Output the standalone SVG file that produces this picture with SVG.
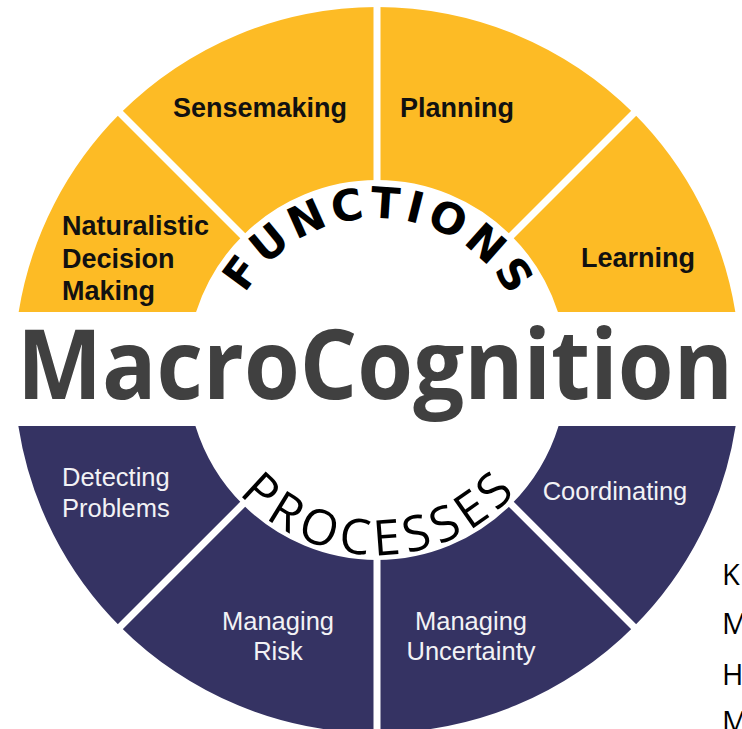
<svg xmlns="http://www.w3.org/2000/svg" width="742" height="729" viewBox="0 0 742 729">
  <style>
    .yel { fill: #FDBB25; }
    .pur { fill: #353363; }
    .ylab { font-family: "Liberation Sans", Arial, sans-serif; font-weight: bold; font-size: 27px; fill: #111111; }
    .plab { font-family: "Liberation Sans", Arial, sans-serif; font-size: 25.5px; fill: #F2F2F5; }
    .div { stroke: #FFFFFF; stroke-width: 7; fill: none; }
    .side { font-family: "Open Sans", "Liberation Sans", sans-serif; font-size: 29px; fill: #000000; }
  </style>
  <defs>
    <path id="arcTop" d="M 225 370 A 152 152 0 0 1 529 370"/>
    <path id="arcBot" d="M 192 370 A 185 185 0 0 0 562 370"/>
  </defs>
  <rect x="0" y="0" width="742" height="729" fill="#FFFFFF"/>

  <g id="ndm">
    <path class="yel" d="M 18.66 312 A 363 363 0 0 1 120.32 113.32 L 242.65 235.65 A 190 190 0 0 0 196.07 312 Z"/>
    <text class="ylab" x="62" y="235">Naturalistic</text>
    <text class="ylab" x="62" y="268">Decision</text>
    <text class="ylab" x="62" y="300">Making</text>
  </g>
  <g id="sensemaking">
    <path class="yel" d="M 120.32 113.32 A 363 363 0 0 1 377 7 L 377 180 A 190 190 0 0 0 242.65 235.65 Z"/>
    <text class="ylab" x="173" y="117">Sensemaking</text>
  </g>
  <g id="planning">
    <path class="yel" d="M 377 7 A 363 363 0 0 1 633.68 113.32 L 511.35 235.65 A 190 190 0 0 0 377 180 Z"/>
    <text class="ylab" x="400" y="117">Planning</text>
  </g>
  <g id="learning">
    <path class="yel" d="M 633.68 113.32 A 363 363 0 0 1 735.34 312 L 557.93 312 A 190 190 0 0 0 511.35 235.65 Z"/>
    <text class="ylab" x="581" y="267">Learning</text>
  </g>

  <g id="detecting">
    <path class="pur" d="M 18.35 426 L 195.44 426 A 190 190 0 0 0 242.65 504.35 L 120.32 626.68 A 363 363 0 0 1 18.35 426 Z"/>
    <text class="plab" x="62" y="486">Detecting</text>
    <text class="plab" x="62" y="517">Problems</text>
  </g>
  <g id="risk">
    <path class="pur" d="M 242.65 504.35 A 190 190 0 0 0 377 560 L 377 733 A 363 363 0 0 1 120.32 626.68 Z"/>
    <text class="plab" x="278" y="630" text-anchor="middle">Managing</text>
    <text class="plab" x="278" y="660" text-anchor="middle">Risk</text>
  </g>
  <g id="uncertainty">
    <path class="pur" d="M 377 560 A 190 190 0 0 0 511.35 504.35 L 633.68 626.68 A 363 363 0 0 1 377 733 Z"/>
    <text class="plab" x="471" y="630" text-anchor="middle">Managing</text>
    <text class="plab" x="471" y="660" text-anchor="middle">Uncertainty</text>
  </g>
  <g id="coordinating">
    <path class="pur" d="M 511.35 504.35 A 190 190 0 0 0 558.56 426 L 735.65 426 A 363 363 0 0 1 633.68 626.68 Z"/>
    <text class="plab" x="615" y="500" text-anchor="middle">Coordinating</text>
  </g>

  <g id="connectors">
    <line class="div" x1="377" y1="0" x2="377" y2="182"/>
    <line class="div" x1="110" y1="103" x2="245" y2="238"/>
    <line class="div" x1="644" y1="103" x2="509" y2="238"/>
    <line class="div" x1="377" y1="558" x2="377" y2="729"/>
    <line class="div" x1="110" y1="637" x2="245" y2="502"/>
    <line class="div" x1="644" y1="637" x2="509" y2="502"/>
  </g>

  <g id="title">
    <text x="17" y="399" textLength="716" lengthAdjust="spacingAndGlyphs" font-family="'Open Sans', 'Liberation Sans', sans-serif" font-weight="bold" font-size="97" fill="#404040">MacroCognition</text>
  </g>
  <g id="functions">
    <text font-family="'DejaVu Sans', 'Open Sans', sans-serif" font-weight="bold" font-size="43" fill="#000000" letter-spacing="5" text-anchor="middle"><textPath href="#arcTop" startOffset="50.8%">FUNCTIONS</textPath></text>
  </g>
  <g id="processes">
    <text font-family="'Open Sans', 'Liberation Sans', sans-serif" font-size="49" fill="#000000" letter-spacing="6" text-anchor="middle"><textPath href="#arcBot" startOffset="50.6%">PROCESSES</textPath></text>
  </g>
  <g id="sidetext">
    <text class="side" x="722" y="585">K</text>
    <text class="side" x="722" y="634">M</text>
    <text class="side" x="722" y="685">H</text>
    <text class="side" x="722" y="732">M</text>
  </g>
</svg>
